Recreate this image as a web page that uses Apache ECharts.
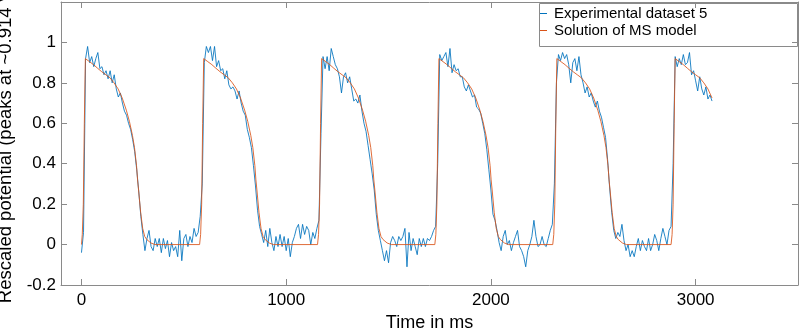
<!DOCTYPE html>
<html>
<head>
<meta charset="utf-8">
<script src="https://cdn.jsdelivr.net/npm/echarts@6/dist/echarts.min.js"></script>
<style>
html,body{margin:0;padding:0;background:#fff;}
#chart{width:802px;height:334px;}
</style>
</head>
<body>
<div id="chart"></div>
<script>
// ---- data ----
const xTicks = [0, 1000, 2000, 3000];
const yTicks = [-0.2, 0, 0.2, 0.4, 0.6, 0.8, 1];
const seriesNames = ['Experimental dataset 5', 'Solution of MS model'];
const xTitle = 'Time in ms';
const yTitle = 'Rescaled potential (peaks at ~0.914 V)';

// experimental samples, every 10 ms starting at 0 ms
const expStart = 0;
const expStep = 10;
const expValues = [
  -0.04, 0.06, 0.92, 0.98, 0.90, 0.93, 0.88, 0.92, 0.95, 0.87,
  0.88, 0.84, 0.86, 0.82, 0.86, 0.80, 0.84, 0.77, 0.73, 0.75,
  0.70, 0.66, 0.64, 0.60, 0.57, 0.52, 0.46, 0.37, 0.26, 0.14,
  0.05, -0.03, 0.03, 0.07, -0.01, -0.03, 0.03, -0.01, 0.03, -0.04,
  0.03, -0.02, 0.02, -0.06, 0.01, -0.03, -0.01, -0.06, 0.07, -0.08,
  0.03, 0.05, -0.01, 0.04, 0.01, 0.08, 0.04, 0.06, 0.14, 0.30,
  0.90, 0.98, 0.95, 0.98, 0.91, 0.98, 0.88, 0.91, 0.86, 0.87,
  0.82, 0.86, 0.79, 0.77, 0.78, 0.76, 0.72, 0.76, 0.70, 0.66,
  0.64, 0.57, 0.53, 0.48, 0.39, 0.29, 0.17, 0.09, 0.05, 0.01,
  0.07, -0.01, 0.08, 0.01, -0.03, 0.04, -0.01, 0.05, -0.01, 0.04,
  -0.03, 0.03, -0.06, 0.01, 0.04, 0.08, 0.10, 0.03, 0.10, 0.05,
  0.09, 0.07, 0.00, 0.06, 0.03, 0.08, 0.12, 0.55, 0.93, 0.87,
  0.93, 0.86, 0.97, 0.93, 0.89, 0.87, 0.83, 0.75, 0.83, 0.85,
  0.80, 0.83, 0.77, 0.71, 0.72, 0.70, 0.74, 0.66, 0.60, 0.56,
  0.49, 0.42, 0.35, 0.27, 0.15, 0.07, 0.02, -0.03, -0.08, -0.03,
  -0.09, 0.01, 0.04, 0.02, -0.01, 0.04, 0.02, 0.04, 0.08, -0.11,
  0.06, -0.03, 0.03, -0.01, -0.05, 0.03, -0.01, 0.03, -0.01, 0.03,
  0.02, 0.04, 0.07, 0.09, 0.40, 0.94, 0.91, 0.93, 0.95, 0.88,
  0.97, 0.85, 0.89, 0.86, 0.87, 0.83, 0.83, 0.78, 0.76, 0.79,
  0.76, 0.73, 0.74, 0.68, 0.67, 0.65, 0.60, 0.55, 0.47, 0.37,
  0.27, 0.15, 0.12, 0.07, 0.01, -0.03, 0.04, 0.07, 0.00, 0.02,
  -0.03, 0.01, 0.04, 0.07, -0.01, -0.03, -0.06, -0.11, -0.03, 0.00,
  0.04, 0.12, 0.04, -0.01, 0.00, 0.04, 0.00, -0.01, 0.03, 0.07,
  0.10, 0.30, 0.80, 0.94, 0.91, 0.95, 0.92, 0.94, 0.89, 0.80,
  0.90, 0.92, 0.86, 0.93, 0.84, 0.80, 0.75, 0.78, 0.73, 0.75,
  0.71, 0.68, 0.71, 0.66, 0.63, 0.58, 0.53, 0.42, 0.28, 0.16,
  0.07, 0.03, 0.06, 0.04, 0.10, 0.02, -0.03, 0.00, -0.06, -0.03,
  -0.06, -0.01, 0.03, -0.03, 0.02, -0.01, -0.03, 0.03, -0.03, 0.00,
  0.05, 0.02, -0.03, 0.03, 0.08, 0.04, 0.00, 0.07, 0.09, 0.40,
  0.93, 0.88, 0.92, 0.89, 0.94, 0.89, 0.90, 0.95, 0.84, 0.86,
  0.81, 0.76, 0.83, 0.77, 0.74, 0.78, 0.72, 0.74, 0.71
];

// model solution: one action-potential shape (time relative to peak, value), repeated at each peak time
const modelPeakTimes = [19, 597, 1173, 1746, 2322, 2900];
const modelEnd = 3084;
const modelShapeRel = [-20, -15, -10, -5, 0, 20, 40, 60, 80, 100, 120, 140, 160, 180, 200, 215, 230, 240, 250, 255, 260, 270, 280, 290, 300, 320, 340];
const modelShapeVal = [0, 0.05, 0.2, 0.6, 0.92, 0.905, 0.89, 0.872, 0.855, 0.84, 0.825, 0.80, 0.77, 0.725, 0.665, 0.61, 0.54, 0.48, 0.39, 0.32, 0.27, 0.16, 0.08, 0.04, 0.025, 0.008, 0];

// ---- build series ----
const expData = expValues.map((v, i) => [expStart + i * expStep, v]);
const modelData = [[0, 0]];
modelPeakTimes.forEach(p => {
  modelShapeRel.forEach((r, k) => {
    const t = p + r;
    if (t > 0 && t <= modelEnd) modelData.push([t, modelShapeVal[k]]);
  });
});

const FONT = '"Liberation Sans", Arial, Helvetica, sans-serif';
const AXC = '#8a8a8a';

const chart = echarts.init(document.getElementById('chart'), null, {renderer: 'canvas'});
chart.setOption({
  animation: false,
  backgroundColor: '#fff',
  grid: {left: 61, right: 4, top: 2, bottom: 49, containLabel: false, outerBoundsMode: 'none'},
  legend: {
    data: seriesNames,
    orient: 'vertical',
    left: 540, top: 5,
    itemGap: 0,
    itemWidth: 7, itemHeight: 1,
    icon: 'rect',
    padding: 0,
    textStyle: {fontFamily: FONT, fontSize: 15, color: '#000', lineHeight: 17, padding: [0, 0, 0, 2]}
  },
  graphic: [{
    type: 'rect', left: 539, top: 3, z: 0,
    shape: {width: 258, height: 43},
    style: {fill: '#fff', stroke: '#8a8a8a', lineWidth: 1}
  }],
  xAxis: [{
    type: 'value', min: -100, max: 3500, position: 'bottom',
    name: xTitle, nameLocation: 'middle', nameGap: 27,
    nameTextStyle: {fontFamily: FONT, fontSize: 18, color: '#000'},
    axisLine: {show: true, onZero: false, lineStyle: {color: AXC, width: 1}},
    axisTick: {show: true, inside: true, length: 6, lineStyle: {color: AXC}},
    splitLine: {show: false},
    axisLabel: {
      fontFamily: FONT, fontSize: 17, color: '#000', margin: 7,
      showMinLabel: false, showMaxLabel: false,
      formatter: v => (xTicks.indexOf(v) >= 0 ? String(v) : '')
    }
  }, {
    type: 'value', min: -100, max: 3500, position: 'top',
    axisLine: {show: true, onZero: false, lineStyle: {color: AXC, width: 1}},
    axisTick: {show: true, inside: true, length: 6, lineStyle: {color: AXC}},
    axisLabel: {show: false}, splitLine: {show: false}
  }],
  yAxis: [{
    type: 'value', min: -0.2, max: 1.2, interval: 0.2, position: 'left',
    name: yTitle, nameLocation: 'middle', nameGap: 38,
    nameTextStyle: {fontFamily: FONT, fontSize: 18.5, color: '#000'},
    axisLine: {show: true, onZero: false, lineStyle: {color: AXC, width: 1}},
    axisTick: {show: true, inside: true, length: 6, lineStyle: {color: AXC}},
    splitLine: {show: false},
    axisLabel: {
      fontFamily: FONT, fontSize: 17, color: '#000', margin: 5,
      formatter: v => {
        const r = Math.round(v * 10) / 10;
        return yTicks.indexOf(r) >= 0 ? String(r) : '';
      }
    }
  }, {
    type: 'value', min: -0.2, max: 1.2, interval: 0.2, position: 'right',
    axisLine: {show: true, onZero: false, lineStyle: {color: AXC, width: 1}},
    axisTick: {show: true, inside: true, length: 6, lineStyle: {color: AXC}},
    axisLabel: {show: false}, splitLine: {show: false}
  }],
  series: [{
    name: seriesNames[0], type: 'line', data: expData,
    showSymbol: false, symbol: 'none', z: 2,
    color: '#0072BD',
    lineStyle: {color: '#0072BD', width: 1, opacity: 0.85}
  }, {
    name: seriesNames[1], type: 'line', data: modelData,
    showSymbol: false, symbol: 'none', z: 3,
    color: '#D95319',
    lineStyle: {color: '#D95319', width: 1, opacity: 0.85}
  }]
});
</script>
</body>
</html>
